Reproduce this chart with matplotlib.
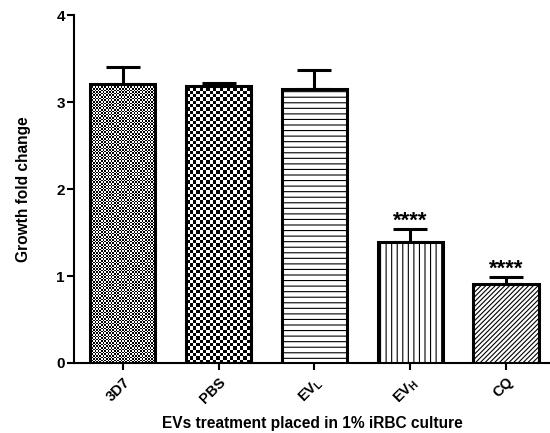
import numpy as np
import matplotlib
matplotlib.use("Agg")
import matplotlib.pyplot as plt

# data
groups = ["3D7", "PBS", r"EV$_\mathbf{L}$", r"EV$_\mathbf{H}$", "CQ"]
means = [3.21, 3.19, 3.15, 1.39, 0.905]
sem = [0.19, 0.03, 0.22, 0.15, 0.08]
stars = ["", "", "", "****", "****"]

plt.rcParams["font.family"] = ["Liberation Sans", "DejaVu Sans"]
plt.rcParams["mathtext.fontset"] = "custom"
plt.rcParams["mathtext.rm"] = "Liberation Sans"
plt.rcParams["mathtext.bf"] = "Liberation Sans:bold"
plt.rcParams["hatch.linewidth"] = 0.8

fig = plt.figure(figsize=(5.5, 4.33), dpi=100)
ax = fig.add_axes([0.1345, 0.1617, 0.8655, 0.8035])

x = np.arange(len(groups))
xlim = (-0.51, 4.46)
ylim = (0, 4)

hatches = [None, None, "---", "|||", "///////"]
bars = ax.bar(x, means, width=0.68, facecolor="white", edgecolor="black",
              linewidth=2.2, zorder=3)
for b, h in zip(bars, hatches):
    if h is None:
        b.set_facecolor("none")
    else:
        b.set_hatch(h)

# checkerboard fills for the first two bars
ax_w, ax_h = 476, 348
for b, cell in [(bars[0], 1.6), (bars[1], 3.3)]:
    nx, ny = int(ax_w / cell), int(ax_h / cell)
    checker = (np.add.outer(np.arange(ny), np.arange(nx)) % 2).astype(float)
    im = ax.imshow(checker, extent=[xlim[0], xlim[1], ylim[0], ylim[1]],
                   aspect="auto", cmap="gray", interpolation="nearest",
                   zorder=2)
    im.set_clip_path(b)

ax.errorbar(x, means, yerr=[np.zeros(len(sem)), sem], fmt="none",
            ecolor="black", elinewidth=2.2, capsize=12, capthick=2.2, zorder=2.5)

for xi, m, s, st in zip(x, means, sem, stars):
    if st:
        ax.annotate(st, (xi, m + s), xytext=(0, 2), textcoords="offset points",
                    ha="center", va="baseline", fontsize=16, fontweight="bold")

ax.set_xlim(xlim)
ax.set_ylim(ylim)
ax.set_yticks([0, 1, 2, 3, 4])
ax.set_xticks(x)
ax.set_xticklabels(groups, rotation=45, ha="right", rotation_mode="anchor",
                   fontweight="bold", fontsize=10.5)
for lab in ax.get_yticklabels():
    lab.set_fontweight("bold")
    lab.set_fontsize(11)

ax.spines["top"].set_visible(False)
ax.spines["right"].set_visible(False)
ax.spines["left"].set_linewidth(1.5)
ax.spines["bottom"].set_linewidth(1.5)
ax.tick_params(width=1.5, length=5)
ax.tick_params(axis="y", pad=1.5)

ax.set_ylabel("Growth fold change", fontweight="bold", fontsize=11.2, labelpad=18)
ax.set_xlabel("EVs treatment placed in 1% iRBC culture", fontweight="bold",
              fontsize=11.2, labelpad=7)

plt.savefig("out.png", dpi=100)
